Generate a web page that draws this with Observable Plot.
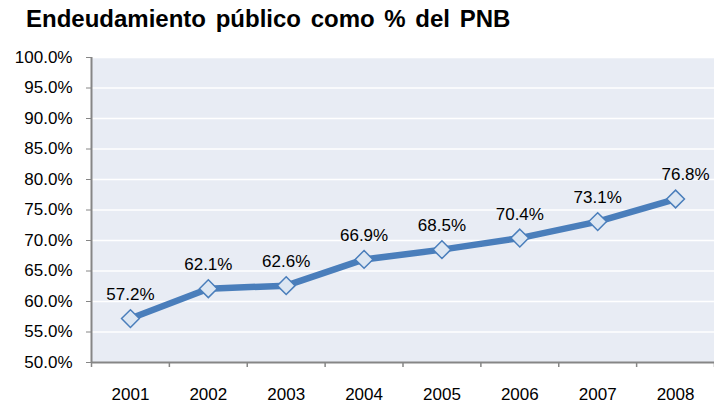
<!DOCTYPE html>
<html>
<head>
<meta charset="utf-8">
<script src="https://cdn.jsdelivr.net/npm/d3@7"></script>
<script src="https://cdn.jsdelivr.net/npm/@observablehq/plot@0.6"></script>
<style>
  html, body { margin: 0; padding: 0; background: white; }
  #title {
    height: 40px; line-height: 38px; padding-left: 26px;
    font-family: "Liberation Sans", Arial, sans-serif; font-weight: bold;
    font-size: 24px; word-spacing: 3px; color: #000; white-space: nowrap;
  }
</style>
</head>
<body>
<div id="title">Endeudamiento público como % del PNB</div>
<div id="chart"></div>
<script>
const years = [2001, 2002, 2003, 2004, 2005, 2006, 2007, 2008];
const debt = [57.2, 62.1, 62.6, 66.9, 68.5, 70.4, 73.1, 76.8];
const yTicks = [50, 55, 60, 65, 70, 75, 80, 85, 90, 95, 100];

const data = years.map((year, i) => ({year, value: debt[i]}));
const boundaries = [...years.map(y => y - 0.5), years[years.length - 1] + 0.5];
const xDomain = [boundaries[0], boundaries[boundaries.length - 1]];
const yDomain = [yTicks[0], yTicks[yTicks.length - 1]];

const axisColor = "#868686";
const lineColor = "#4A7EBB";

const chart = Plot.plot({
  width: 714,
  height: 366,
  marginTop: 17,
  marginBottom: 44,
  marginLeft: 91,
  marginRight: 0,
  style: {fontFamily: "'Liberation Sans', Arial, sans-serif", fontSize: "17px", color: "#000", background: "white"},
  x: {domain: xDomain, axis: null},
  y: {domain: yDomain, axis: null},
  marks: [
    Plot.frame({fill: "#E8ECF4", stroke: null}),
    Plot.gridY(yTicks.slice(1), {stroke: "white", strokeOpacity: 1, strokeWidth: 1.5}),
    Plot.axisY(yTicks, {label: null, tickSize: 5, tickPadding: 14, stroke: axisColor, strokeOpacity: 1, fontSize: 17, fill: "#000",
      tickFormat: d => d.toFixed(1) + "%"}),
    Plot.ruleX([xDomain[0]], {stroke: axisColor, strokeWidth: 2}),
    Plot.ruleY([yDomain[0]], {stroke: axisColor, strokeWidth: 2}),
    Plot.axisX(boundaries, {label: null, tickSize: 5, text: null, stroke: axisColor, strokeOpacity: 1, strokeWidth: 1.5}),
    Plot.axisX(years, {label: null, tickSize: 0, tickPadding: 25, fontSize: 17, fill: "#000", tickFormat: d => String(d)}),
    Plot.line(data, {x: "year", y: "value", stroke: lineColor, strokeWidth: 6.5, strokeLinejoin: "round"}),
    Plot.dot(data, {x: "year", y: "value", symbol: "diamond2", r: 8, fill: "#DCE6F2", stroke: lineColor, strokeWidth: 1.5}),
    Plot.text(data.slice(0, -1), {x: "year", y: "value", text: d => d.value.toFixed(1) + "%", dy: -24, fontSize: 17, fill: "#000"}),
    Plot.text(data.slice(-1), {x: "year", y: "value", text: d => d.value.toFixed(1) + "%", dy: -24, dx: 10, fontSize: 17, fill: "#000"})
  ]
});
document.getElementById("chart").appendChild(chart);
</script>
</body>
</html>
